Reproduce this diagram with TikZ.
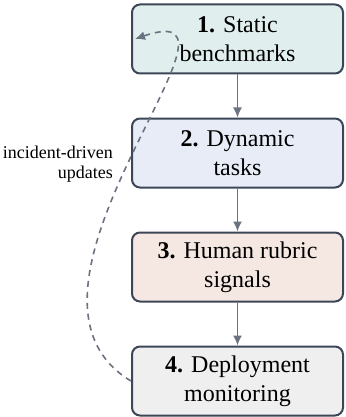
\documentclass[tikz,border=0pt]{standalone}
\usepackage{fontspec}
\setmainfont{Liberation Serif}
\usepackage{xcolor}
\usetikzlibrary{arrows.meta}

\definecolor{edgeslate}{HTML}{3C4657}
\definecolor{flowgray}{HTML}{6B7280}
\definecolor{stagea}{HTML}{E0EEEE}
\definecolor{stageb}{HTML}{E8ECF6}
\definecolor{stagec}{HTML}{F5E8E2}
\definecolor{staged}{HTML}{EFEFEF}

\begin{document}
\begin{tikzpicture}[x=1pt, y=1pt,
		stagebox/.style = {draw = edgeslate, line width = 1pt, rounded corners = 4pt,
			minimum width = 105.5pt, minimum height = 34.5pt, align = center,
			font = \fontsize{12}{14.5}\selectfont},
		flow/.style = {draw = flowgray, line width = 0.8pt, -{Latex[length=5pt, width=4.5pt]}},
		feedback/.style = {draw = flowgray, line width = 0.8pt, dash pattern = on 3pt off 2.5pt,
			-{Latex[length=5pt, width=4.5pt]}}]
					\def\cx{118.75};
					\def\gap{57};
					
					\useasboundingbox (0,0) rectangle (172.5,-208.5);
					
					\begin{scope}
						\node [stagebox, fill = stagea] (n1) at (\cx,-19.5) {\textbf{1.} Static\\benchmarks};
						\node [stagebox, fill = stageb] (n2) at (\cx,{-19.5-\gap}) {\textbf{2.} Dynamic\\tasks};
						\node [stagebox, fill = stagec] (n3) at (\cx,{-19.5-2*\gap}) {\textbf{3.} Human rubric\\signals};
						\node [stagebox, fill = staged] (n4) at (\cx,{-19.5-3*\gap}) {\textbf{4.} Deployment\\monitoring};
					\end{scope}
					
					\begin{scope}
						\draw [flow] (n1) -- (n2);
						\draw [flow] (n2) -- (n3);
						\draw [flow] (n3) -- (n4);
						
						% loop back from monitoring to the top
						\draw [feedback] (n4.west) .. controls +(-75,45) and +(70,24) .. ([xshift=2pt]n1.west);
						\node [anchor = east, align = right, font = \fontsize{9}{10}\selectfont] (upd) at (60,-82) {incident-driven\\updates};
					\end{scope}
				\end{tikzpicture}
\end{document}
